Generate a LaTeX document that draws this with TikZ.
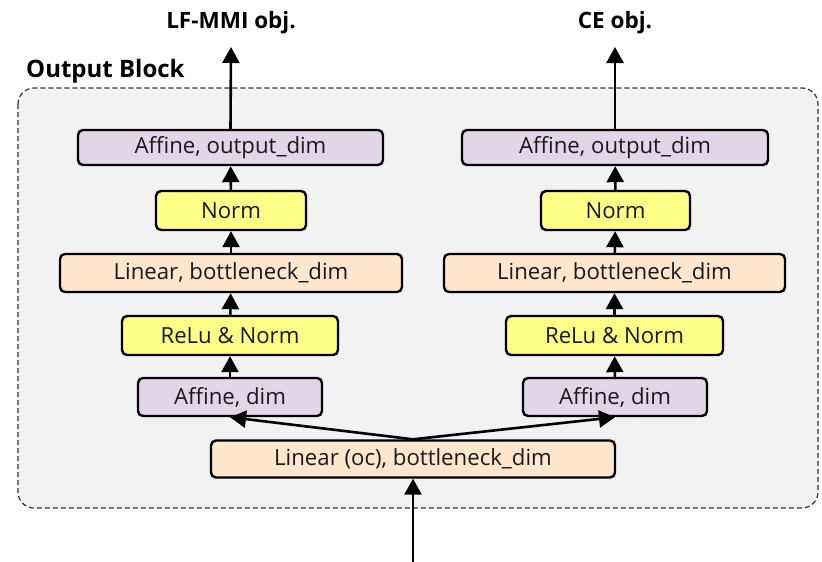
\documentclass[tikz,border=0pt]{standalone}
\usepackage{fontspec}
\setmainfont{Open Sans}
\usetikzlibrary{arrows.meta}
\definecolor{blockbg}{HTML}{F2F2F2}
\definecolor{affinefill}{HTML}{E1D5E7}
\definecolor{normfill}{HTML}{FFFF88}
\definecolor{linearfill}{HTML}{FFE6CC}
\tikzset{
  layer/.style={draw=black, line width=2.4pt, rounded corners=5pt, inner sep=0pt,
    font=\fontsize{22.2}{25}\selectfont, text=black!90},
  affine/.style={layer, fill=affinefill},
  normbox/.style={layer, fill=normfill},
  linearbox/.style={layer, fill=linearfill},
  flow/.style={line width=2.6pt, -{Triangle[length=16pt,width=17pt]}},
  heading/.style={font=\bfseries\fontsize{22.5}{26}\selectfont, inner sep=0pt},
}
\begin{document}
\begin{tikzpicture}[x=1pt, y=-1pt]
  \useasboundingbox (0,0) rectangle (822,562);
  % dashed frame of the output block
  \draw[fill=blockbg, draw=black!80, dash pattern=on 5pt off 3pt, line width=1.2pt,
        rounded corners=16pt] (18,88) rectangle (818,508);
  \node[heading, font=\bfseries\fontsize{24}{27}\selectfont, anchor=base west] (blk) at (26,77) {Output Block};

  % shared input layer
  \node[linearbox, minimum width=404pt, minimum height=37pt] (lin) at (413,459) {Linear (oc), bottleneck\_dim};

  % left branch
  \node[affine, minimum width=184pt, minimum height=38pt] (affL) at (230,397) {Affine, dim};
  \node[normbox, minimum width=216pt, minimum height=39pt] (reluL) at (230,335.5) {ReLu \& Norm};
  \node[linearbox, minimum width=342pt, minimum height=38pt] (linL) at (231,273) {Linear, bottleneck\_dim};
  \node[normbox, minimum width=150pt, minimum height=39pt] (normL) at (231,210.5) {Norm};
  \node[affine, minimum width=305pt, minimum height=35pt] (outL) at (230.5,147.5) {Affine, output\_dim};
  \node[heading, anchor=base] (objL) at (231,28) {LF-MMI obj.};

  % right branch
  \node[affine, minimum width=184pt, minimum height=38pt] (affR) at (615,397) {Affine, dim};
  \node[normbox, minimum width=217pt, minimum height=39pt] (reluR) at (614.5,335.5) {ReLu \& Norm};
  \node[linearbox, minimum width=341pt, minimum height=38pt] (linR) at (614.5,273) {Linear, bottleneck\_dim};
  \node[normbox, minimum width=149pt, minimum height=39pt] (normR) at (615.5,210.5) {Norm};
  \node[affine, minimum width=306pt, minimum height=35pt] (outR) at (615,147.5) {Affine, output\_dim};
  \node[heading, anchor=base] (objR) at (615,28) {CE obj.};

  % input
  \coordinate (in) at (413,562);
  \draw[flow] (in) -- (lin.south);

  % connections
  \draw[flow] (lin.north) -- (affL.south);
  \draw[flow] (lin.north) -- (affR.south);
  \draw[flow] (affL) -- (reluL);
  \draw[flow] (reluL) -- (linL);
  \draw[flow] (linL) -- (normL);
  \draw[flow] (normL) -- (outL);
  \draw[flow] (outL.north) -- (231,47);
  \draw[flow] (affR) -- (reluR);
  \draw[flow] (reluR) -- (linR);
  \draw[flow] (linR) -- (normR);
  \draw[flow] (normR) -- (outR);
  \draw[flow] (outR.north) -- (615,47);
\end{tikzpicture}
\end{document}
